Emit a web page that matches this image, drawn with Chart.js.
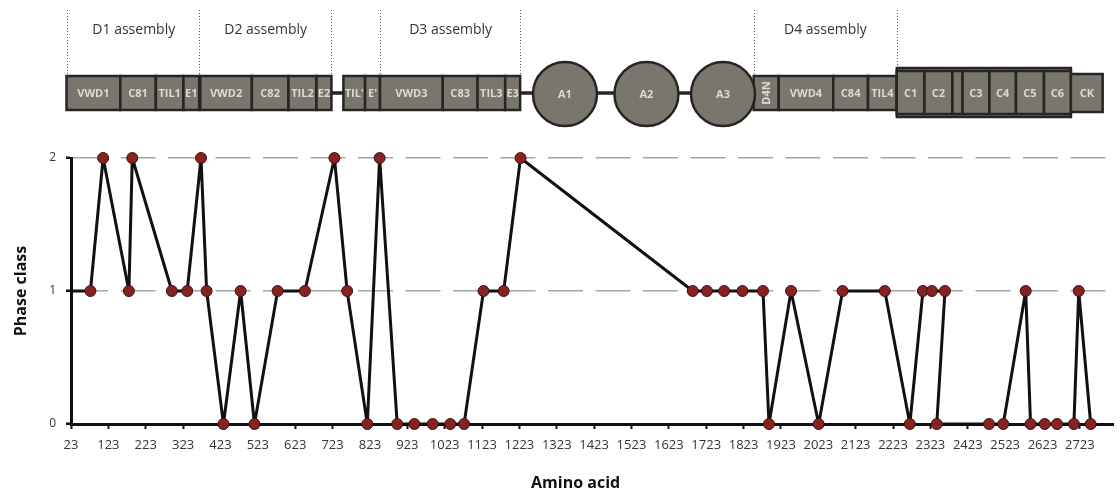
<!DOCTYPE html>
<html lang="en">
<head>
<meta charset="UTF-8">
<title>Phase class</title>
<script src="https://cdn.jsdelivr.net/npm/chart.js"></script>
<style>
  body { margin: 0; background: #fff; }
  #wrap { width: 1120px; height: 493px; position: relative; }
</style>
</head>
<body>
<div id="wrap"><canvas id="chartPhase"></canvas></div>
<script>
// data (x = amino acid, y = phase class)
const aminoAcid = [23, 75, 109, 178, 187, 293, 334, 371, 386, 431, 477, 514, 576, 649, 728, 762, 816, 849, 896, 942,
  991, 1038, 1075, 1127, 1181, 1226, 1687, 1725, 1771, 1820, 1875, 1891, 1950, 2024, 2088, 2201, 2268, 2303, 2327, 2362,
  2340, 2480, 2518, 2578, 2591, 2629, 2662, 2707, 2720, 2752];
const phaseClass = [1, 1, 2, 1, 2, 1, 1, 2, 1, 0, 1, 0, 1, 1, 2, 1, 0, 2, 0, 0,
  0, 0, 0, 1, 1, 2, 1, 1, 1, 1, 1, 0, 1, 0, 1, 1, 0, 1, 1, 1,
  0, 0, 0, 1, 0, 0, 0, 0, 1, 0];

const xTicks = [23, 123, 223, 323, 423, 523, 623, 723, 823, 923, 1023, 1123, 1223, 1323, 1423, 1523, 1623, 1723,
  1823, 1923, 2023, 2123, 2223, 2323, 2423, 2523, 2623, 2723];
const xMin = 23;
const xMax = 2813;

// domain map on top (positions in amino acids)
const domainNames = ['VWD1', 'C81', 'TIL1', 'E1', 'VWD2', 'C82', 'TIL2', 'E2', "TIL'", "E'", 'VWD3', 'C83', 'TIL3', 'E3', 'D4N', 'VWD4', 'C84', 'TIL4'];
const domainStart = [11, 155, 250, 324, 369, 507, 605, 680, 752, 810, 850, 1018, 1111, 1185, 1850, 1917, 2063, 2156];
const domainEnd = [155, 250, 324, 366, 507, 605, 680, 720, 810, 850, 1018, 1111, 1185, 1225, 1917, 2063, 2156, 2233];

const cNames = ['C1', 'C2', '', 'C3', 'C4', 'C5', 'C6'];
const cStart = [2233, 2307, 2382, 2409, 2481, 2552, 2627];
const cEnd = [2307, 2382, 2409, 2481, 2552, 2627, 2699];
const ckRange = [2699, 2784];

const aNames = ['A1', 'A2', 'A3'];
const aCenter = [1345, 1563, 1768];

const assemblyNames = ['D1 assembly', 'D2 assembly', 'D3 assembly', 'D4 assembly'];
const assemblyCenter = [191, 544, 1039, 2042];
const assemblyLines = [11, 366, 720, 850, 1225, 1850, 2233];

Chart.defaults.font.family = '"Open Sans", sans-serif';

const boxFill = '#7b766d';
const boxLine = '#252525';
const boxText = '#dedad2';

const domainPlugin = {
  id: 'domainMap',
  afterDraw(chart) {
    const ctx = chart.ctx;
    const sx = chart.scales.x;
    const px = v => sx.getPixelForValue(v);

    ctx.save();

    // dotted assembly dividers
    ctx.strokeStyle = '#555';
    ctx.lineWidth = 1;
    ctx.setLineDash([1, 2]);
    assemblyLines.forEach(v => {
      const p = Math.round(px(v)) + 0.5;
      ctx.beginPath();
      ctx.moveTo(p, 10);
      ctx.lineTo(p, 76);
      ctx.stroke();
    });
    ctx.setLineDash([]);

    ctx.fillStyle = '#333';
    ctx.font = '14px "Open Sans"';
    ctx.textAlign = 'center';
    ctx.textBaseline = 'middle';
    assemblyNames.forEach((n, i) => ctx.fillText(n, px(assemblyCenter[i]), 30));

    // connecting line
    ctx.strokeStyle = boxLine;
    ctx.lineWidth = 3.5;
    ctx.beginPath();
    ctx.moveTo(px(domainEnd[7]), 93);
    ctx.lineTo(px(domainStart[14]), 93);
    ctx.stroke();

    function box(a, b, y0, y1, label) {
      const x0 = px(a), x1 = px(b);
      ctx.fillStyle = boxFill;
      ctx.fillRect(x0, y0, x1 - x0, y1 - y0);
      ctx.strokeStyle = boxLine;
      ctx.lineWidth = 2.5;
      ctx.strokeRect(x0, y0, x1 - x0, y1 - y0);
      if (!label) return;
      ctx.fillStyle = boxText;
      ctx.font = 'bold 11px "Open Sans"';
      const cx = (x0 + x1) / 2, cy = (y0 + y1) / 2;
      if (label === 'D4N') {
        ctx.save();
        ctx.translate(cx, cy);
        ctx.rotate(-Math.PI / 2);
        ctx.fillText(label, 0, 1);
        ctx.restore();
      } else {
        ctx.fillText(label, cx, cy + 1);
      }
    }

    domainNames.forEach((n, i) => box(domainStart[i], domainEnd[i], 76, 110, n));

    // C domains block
    box(cStart[0], cEnd[cEnd.length - 1], 68, 117, '');
    cNames.forEach((n, i) => box(cStart[i], cEnd[i], 71, 114, n));
    box(ckRange[0], ckRange[1], 74, 112, 'CK');

    // A domains
    aNames.forEach((n, i) => {
      const cx = px(aCenter[i]);
      ctx.beginPath();
      ctx.arc(cx, 94, 32, 0, Math.PI * 2);
      ctx.fillStyle = boxFill;
      ctx.fill();
      ctx.strokeStyle = boxLine;
      ctx.lineWidth = 2.5;
      ctx.stroke();
      ctx.fillStyle = boxText;
      ctx.font = 'bold 11px "Open Sans"';
      ctx.fillText(n, cx, 95);
    });

    ctx.restore();
  }
};

const ctx = document.getElementById('chartPhase');

new Chart(ctx, {
  type: 'line',
  data: {
    datasets: [{
      label: 'Phase class',
      data: aminoAcid.map((a, i) => ({ x: a, y: phaseClass[i] })),
      borderColor: '#111',
      borderWidth: 3,
      borderJoinStyle: 'round',
      tension: 0,
      clip: false,
      pointBackgroundColor: '#862222',
      pointBorderColor: '#3a1414',
      pointBorderWidth: 1,
      pointRadius: c => c.dataIndex === 0 ? 0 : 5.5,
      pointHoverRadius: c => c.dataIndex === 0 ? 0 : 5.5
    }]
  },
  options: {
    responsive: true,
    maintainAspectRatio: false,
    animation: false,
    layout: { padding: { top: 158, right: 0, bottom: 0, left: 0 } },
    plugins: {
      legend: { display: false },
      tooltip: { enabled: false }
    },
    scales: {
      x: {
        type: 'linear',
        min: xMin,
        max: xMax,
        afterBuildTicks: s => { s.ticks = xTicks.map(v => ({ value: v })); },
        afterFit: s => { s.height = 69; },
        border: { color: '#111', width: 3 },
        grid: { drawOnChartArea: false, drawTicks: true, tickLength: 5, tickColor: '#111', tickWidth: 2 },
        ticks: { color: '#333', font: { size: 13 }, padding: 8, maxRotation: 0, autoSkip: false, callback: v => String(v) },
        title: { display: true, text: 'Amino acid\u00a0\u00a0\u00a0\u00a0\u00a0\u00a0\u00a0\u00a0', color: '#111', font: { size: 16, weight: 'bold' }, padding: 0 }
      },
      y: {
        min: 0,
        max: 2,
        afterFit: s => { s.width = 71; },
        border: { color: '#111', width: 3, dash: [35, 12.5] },
        grid: {
          color: c => c.tick && c.tick.value === 0 ? 'rgba(0,0,0,0)' : '#a6a6a6',
          lineWidth: 1.5,
          tickLength: 5,
          tickColor: '#111',
          tickWidth: 2.5
        },
        ticks: { stepSize: 1, color: '#333', font: { size: 12 }, padding: 10, callback: v => String(v) },
        title: { display: true, text: 'Phase class', color: '#111', font: { size: 16, weight: 'bold' }, padding: { top: 12, bottom: 0 } }
      }
    }
  },
  plugins: [domainPlugin]
});
</script>
</body>
</html>
